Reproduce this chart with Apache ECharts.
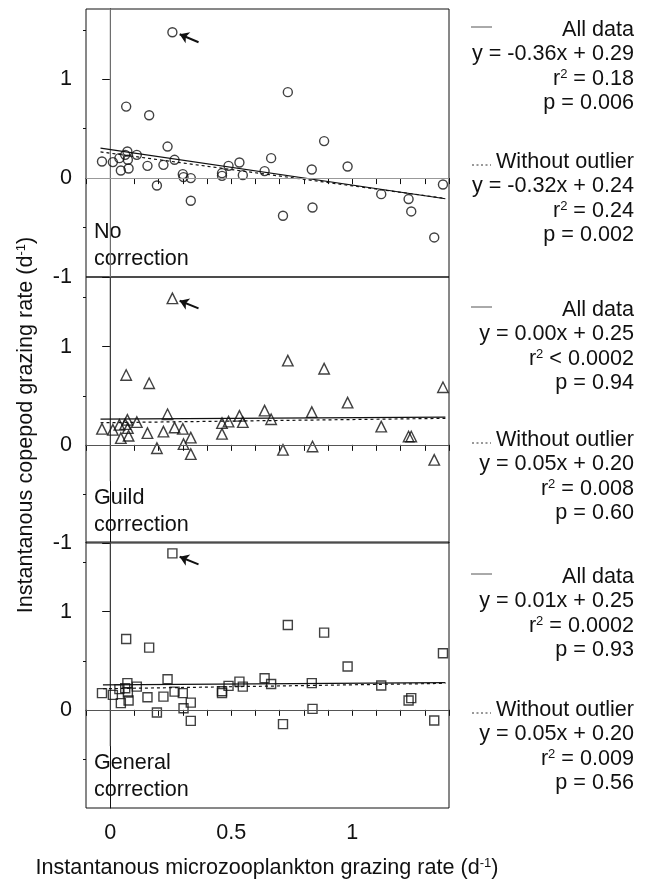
<!DOCTYPE html>
<html><head><meta charset="utf-8">
<script src="https://cdn.jsdelivr.net/npm/echarts@6/dist/echarts.min.js"></script>
<style>html,body{margin:0;padding:0;background:#fff}#c{width:648px;height:879px}</style>
</head><body><div id="c"></div>
<script>
// ---- data ----
const xVals = [-0.034,0.011,0.038,0.044,0.062,0.071,0.073,0.076,0.066,0.110,0.154,0.161,0.193,0.220,0.237,0.266,0.257,0.300,0.303,0.333,0.333,0.462,0.462,0.489,0.534,0.548,0.638,0.665,0.734,0.714,0.833,0.836,0.884,0.981,1.120,1.233,1.244,1.339,1.375];
const yNone    = [0.168,0.162,0.202,0.077,0.235,0.269,0.185,0.097,0.723,0.235,0.124,0.636,-0.075,0.134,0.319,0.185,1.475,0.040,0.010,0.000,-0.229,0.050,0.023,0.124,0.158,0.030,0.071,0.202,0.869,-0.381,0.087,-0.297,0.374,0.117,-0.162,-0.212,-0.337,-0.600,-0.065];
const yGuild   = [0.163,0.153,0.203,0.068,0.211,0.254,0.170,0.092,0.712,0.231,0.119,0.627,-0.034,0.135,0.312,0.176,1.492,0.163,0.007,0.074,-0.095,0.221,0.112,0.237,0.295,0.231,0.349,0.261,0.858,-0.051,0.333,-0.017,0.776,0.430,0.186,0.085,0.085,-0.153,0.587];
const yGeneral = [0.170,0.153,0.211,0.068,0.220,0.272,0.176,0.095,0.722,0.237,0.129,0.634,-0.027,0.135,0.312,0.186,1.594,0.170,0.017,0.074,-0.112,0.170,0.190,0.244,0.288,0.237,0.322,0.264,0.865,-0.145,0.272,0.010,0.787,0.441,0.248,0.095,0.119,-0.109,0.577];

// regression line end points (x, y)
const fitAllNone    = [[-0.04,0.304],[1.385,-0.209]];
const fitOutNone    = [[-0.04,0.265],[1.385,-0.205]];
const fitAllGuild   = [[-0.04,0.262],[1.385,0.283]];
const fitOutGuild   = [[-0.04,0.225],[1.385,0.270]];
const fitAllGeneral = [[-0.03,0.255],[1.385,0.278]];
const fitOutGeneral = [[-0.03,0.215],[1.385,0.270]];

// outlier arrows: [tail, head]
const arrowNone    = [[0.365,1.374],[0.287,1.455]];
const arrowGuild   = [[0.365,1.390],[0.287,1.468]];
const arrowGeneral = [[0.365,1.482],[0.287,1.560]];

// vertical x=0 reference line (top, bottom)
const zeroVNone    = [1.71,-1];
const zeroVGuild   = [1.71,-0.37];
const zeroVGeneral = [1.71,-0.37];

const panelNames = [['No','correction'],['Guild','correction'],['General','correction']];
const eqAll  = ['y = -0.36x + 0.29','y = 0.00x + 0.25','y = 0.01x + 0.25'];
const r2All  = ['= 0.18','< 0.0002','= 0.0002'];
const pAll   = ['p = 0.006','p = 0.94','p = 0.93'];
const eqOut  = ['y = -0.32x + 0.24','y = 0.05x + 0.20','y = 0.05x + 0.20'];
const r2Out  = ['= 0.24','= 0.008','= 0.009'];
const pOut   = ['p = 0.002','p = 0.60','p = 0.56'];

const xTickLabels = [0,0.5,1];
const yMajor = [[-1,0,1],[-1,0,1],[0,1]];
const yMinor = [-0.5,0.5,1.5];

// ---- layout ----
const FONT = 'Liberation Sans, Arial, Helvetica, sans-serif';
const FS = 21.6;
const ink = '#111';
const grids = [
  {left:86, top:9,   width:363, height:268},
  {left:86, top:277, width:363, height:266},
  {left:86, top:542, width:363, height:266}
];
const yVals = [yNone,yGuild,yGeneral];
const symbols = ['circle','triangle','rect'];
const symSizes = [9,10.5,9];
const fitsAll = [fitAllNone,fitAllGuild,fitAllGeneral];
const fitsOut = [fitOutNone,fitOutGuild,fitOutGeneral];
const arrows = [arrowNone,arrowGuild,arrowGeneral];
const zeroV = [zeroVNone,zeroVGuild,zeroVGeneral];

const xAxis = [], yAxis = [], series = [], graphic = [];
grids.forEach((g,i)=>{
  xAxis.push({
    type:'value', gridIndex:i, position:'bottom', min:-0.1, max:1.4, interval:0.1,
    axisLine:{show:true,lineStyle:{color:ink,width:1}},
    axisTick:{show:true,length:6,lineStyle:{color:ink,width:1}},
    axisLabel:{show:i===2, customValues:xTickLabels, margin:14, color:ink, fontSize:FS, fontFamily:FONT,
      formatter:v=>String(Math.round(v*10)/10)},
    splitLine:{show:false}
  });
  yAxis.push({
    type:'value', gridIndex:i, position:'left', min:-1, max:1.71,
    axisLine:{show:true,lineStyle:{color:ink,width:1}},
    axisTick:{show:true,length:8,customValues:yMajor[i],lineStyle:{color:ink,width:1}},
    axisLabel:{show:true,customValues:yMajor[i],margin:14,color:ink,fontSize:FS,fontFamily:FONT,
      formatter:v=>String(Math.round(v))},
    splitLine:{show:false}
  });
  yAxis.push({
    type:'value', gridIndex:i, position:'left', offset:0, min:-1, max:1.71,
    axisLine:{show:false},
    axisTick:{show:true,length:3,customValues:yMinor,lineStyle:{color:ink,width:1}},
    axisLabel:{show:false},
    splitLine:{show:false}
  });
  const yi = i*2;
  // x = 0 vertical line
  series.push({type:'line', xAxisIndex:i, yAxisIndex:yi, data:[[0,zeroV[i][0]],[0,zeroV[i][1]]],
    symbol:'none', silent:true, z:1, lineStyle:{color:i===0?'#999':'#555',width:1}});
  // regression lines
  series.push({type:'line', xAxisIndex:i, yAxisIndex:yi, data:fitsAll[i], symbol:'none', silent:true, z:2,
    lineStyle:{color:ink,width:1.2}});
  series.push({type:'line', xAxisIndex:i, yAxisIndex:yi, data:fitsOut[i], symbol:'none', silent:true, z:2,
    lineStyle:{color:ink,width:1.2,type:[3,3]}});
  // points
  series.push({type:'scatter', xAxisIndex:i, yAxisIndex:yi,
    data:xVals.map((x,k)=>[x,yVals[i][k]]),
    symbol:symbols[i], symbolSize:symSizes[i], z:3,
    itemStyle:{color:'rgba(255,255,255,0)',borderColor:ink,borderWidth:1.4},
    markLine:{silent:true,symbol:'none',label:{show:false},animation:false,
      lineStyle:{color:i===0?'#999':'#555',width:1,type:'solid'},data:[{yAxis:0}]}
  });
  // arrow
  series.push({type:'lines', coordinateSystem:'cartesian2d', xAxisIndex:i, yAxisIndex:yi,
    data:[{coords:arrows[i]}], symbol:['none','arrow'], symbolSize:[1,9], silent:true, z:4,
    lineStyle:{color:ink,width:2,opacity:1}});
  // panel names
  graphic.push({type:'text', left:94, top:g.top+g.height-58, silent:true,
    style:{text:panelNames[i].join('\n'), font:FS+'px '+FONT, fill:ink, lineHeight:27}});
});

// stats annotations
const statTops = [[30,162],[310,440],[577,710]];
const RX = 634;
const richSup = {sup:{fontSize:13,verticalAlign:'top',lineHeight:14,fontFamily:FONT,fill:ink}};
function addText(txt,y,rich){
  graphic.push({type:'text', silent:true, x:RX, y:y,
    style:{text:txt, x:0, y:0, align:'right', verticalAlign:'middle', font:FS+'px '+FONT, fill:ink, rich:rich||undefined}});
}
for(let i=0;i<3;i++){
  const [a,b] = statTops[i];
  const sp = 24.3;
  addText('All data',a);
  addText(eqAll[i],a+sp);
  addText('r{sup|2} '+r2All[i],a+2*sp,richSup);
  addText(pAll[i],a+3*sp);
  addText('Without outlier',b);
  addText(eqOut[i],b+sp);
  addText('r{sup|2} '+r2Out[i],b+2*sp,richSup);
  addText(pOut[i],b+3*sp);
  graphic.push({type:'line',silent:true,shape:{x1:471,y1:a-3,x2:492,y2:a-3},style:{stroke:'#555',lineWidth:1}});
  graphic.push({type:'line',silent:true,shape:{x1:472,y1:b+3,x2:491,y2:b+3},style:{stroke:'#333',lineWidth:1,lineDash:[2,2.5]}});
}

// axis titles
const richT = {sup:{fontSize:13,verticalAlign:'top',lineHeight:14,fontFamily:FONT,fill:ink}};
graphic.push({type:'text', silent:true, x:267, y:868,
  style:{text:'Instantanous microzooplankton grazing rate (d{sup|-1})', align:'center', verticalAlign:'middle',
    font:FS+'px '+FONT, fill:ink, rich:richT}});
graphic.push({type:'text', silent:true, x:26, y:425, rotation:Math.PI/2,
  style:{text:'Instantanous copepod grazing rate (d{sup|-1})', align:'center', verticalAlign:'middle',
    font:FS+'px '+FONT, fill:ink, rich:richT}});

const chart = echarts.init(document.getElementById('c'), null, {renderer:'canvas'});
chart.setOption({
  animation:false,
  backgroundColor:'#fff',
  grid:grids.map(g=>Object.assign({show:true,borderColor:ink,borderWidth:1,backgroundColor:'transparent'},g)),
  xAxis, yAxis, series, graphic
});
</script></body></html>
